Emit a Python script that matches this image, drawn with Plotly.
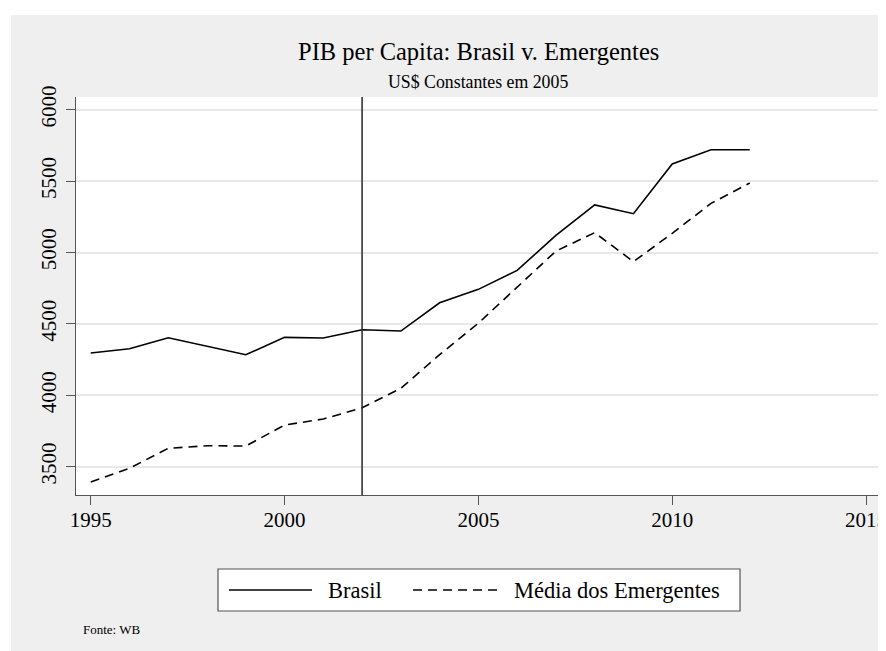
import plotly.graph_objects as go

# ---- data ----
anos = list(range(1995, 2013))
brasil = [4296, 4326, 4403, 4345, 4284, 4406, 4401, 4459, 4450, 4648,
          4742, 4875, 5120, 5333, 5272, 5620, 5720, 5720]
emergentes = [3393, 3489, 3629, 3647, 3645, 3792, 3834, 3913, 4049, 4285,
              4505, 4760, 5010, 5139, 4936, 5134, 5344, 5487]
marco = 2002
x_ticks = [1995, 2000, 2005, 2010, 2015]
y_ticks = [3500, 4000, 4500, 5000, 5500, 6000]
nome_brasil = "Brasil"
nome_emerg = "Média dos Emergentes"
titulo = "PIB per Capita: Brasil v. Emergentes"
subtitulo = "US$ Constantes em 2005"
nota = "Fonte: WB"

FONT = "Liberation Serif"
BG = "#efefef"
AX = "#555555"
DASH = "9px,6px"

fig = go.Figure()
fig.add_trace(go.Scatter(x=anos, y=brasil, mode="lines", name=nome_brasil,
                         line=dict(color="black", width=1.6), showlegend=False))
fig.add_trace(go.Scatter(x=anos, y=emergentes, mode="lines", name=nome_emerg,
                         line=dict(color="black", width=1.6, dash=DASH), showlegend=False))

fig.add_vline(x=marco, line=dict(color="#333333", width=1.6), layer="above")

shapes = []
# white strips at the top/left edges of the page
shapes.append(dict(type="rect", xref="paper", yref="paper", x0=-0.0846, x1=1.01,
                   y0=1.206, y1=1.2236, fillcolor="white", line_width=0, layer="below"))
shapes.append(dict(type="rect", xref="paper", yref="paper", x0=-0.0846, x1=-0.0808,
                   y0=-0.392, y1=1.2236, fillcolor="white", line_width=0, layer="below"))
# legend box
shapes.append(dict(type="rect", xref="paper", yref="paper", x0=0.1766, x1=0.8259,
                   y0=-0.2915, y1=-0.1859, fillcolor="white",
                   line=dict(color=AX, width=1.2)))
shapes.append(dict(type="line", xref="paper", yref="paper", x0=0.1903, x1=0.2935,
                   y0=-0.2387, y1=-0.2387, line=dict(color="black", width=1.6)))
shapes.append(dict(type="line", xref="paper", yref="paper", x0=0.4192, x1=0.5249,
                   y0=-0.2387, y1=-0.2387, line=dict(color="black", width=1.6, dash=DASH)))
for s in shapes:
    fig.add_shape(**s)

ann = [
    dict(text=titulo, x=0.5, y=1.1138, size=24.5, xanchor="center"),
    dict(text=subtitulo, x=0.5, y=1.0384, size=17.8, xanchor="center"),
    dict(text=nome_brasil, x=0.3109, y=-0.2387, size=22.5, xanchor="left"),
    dict(text=nome_emerg, x=0.5423, y=-0.2387, size=22.5, xanchor="left"),
    dict(text=nota, x=0.0058, y=-0.3367, size=13, xanchor="left"),
]
for a in ann:
    fig.add_annotation(text=a["text"], x=a["x"], y=a["y"], xref="paper", yref="paper",
                       xanchor=a["xanchor"], yanchor="middle", showarrow=False,
                       font=dict(family=FONT, size=a["size"], color="black"))

fig.update_layout(
    width=878, height=643,
    margin=dict(l=68, r=6, t=89, b=156, pad=0, autoexpand=False),
    paper_bgcolor=BG, plot_bgcolor="white",
    font=dict(family=FONT, color="black"),
    showlegend=False,
)
fig.update_xaxes(range=[1994.62, 2015.36], tickvals=x_ticks, showgrid=False,
                 zeroline=False, showline=True, linecolor=AX, linewidth=1.2,
                 ticks="outside", ticklen=9, tickcolor=AX, tickwidth=1.2,
                 automargin=False, ticklabeloverflow="allow", ticklabelstandoff=-3,
                 tickfont=dict(family=FONT, size=21, color="black"))
fig.update_yaxes(range=[3302, 6089], tickvals=y_ticks, showgrid=True,
                 gridcolor="#e8e8e8", gridwidth=1.5, zeroline=False,
                 showline=True, linecolor=AX, linewidth=1.2,
                 ticks="outside", ticklen=9, tickcolor=AX, tickwidth=1.2,
                 automargin=False, tickangle=-90, ticklabelstandoff=2,
                 tickfont=dict(family=FONT, size=21, color="black"))

fig.write_html("out.html")
